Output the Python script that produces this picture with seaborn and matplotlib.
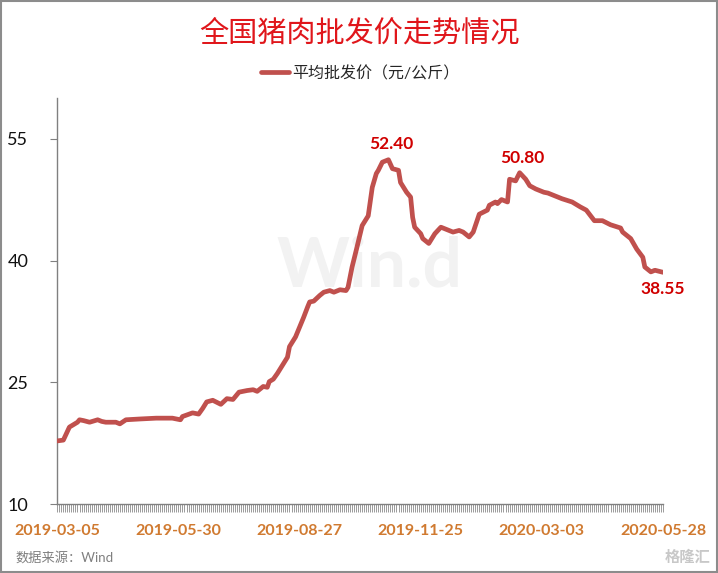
import numpy as np
import pandas as pd
import matplotlib
matplotlib.use("Agg")
import matplotlib.pyplot as plt
import seaborn as sns
from matplotlib.ticker import MultipleLocator
from matplotlib.patches import Rectangle

# ==============================
# data
# ==============================
# trading-day index (0 = 2019-03-05, 300 = 2020-05-28)
day = [0, 3, 6, 10, 11, 13, 16, 20, 22, 24, 29, 31, 34, 41, 49, 57, 61, 62,
       67, 70, 72, 74, 77, 81, 84, 87, 90, 94, 97, 99, 102, 104, 105, 107,
       109, 112, 114, 115, 118, 120, 122, 124, 125, 127, 130, 132, 135, 137,
       140, 143, 144, 146, 148, 151, 154, 156, 158, 159, 161, 164, 166, 169,
       170, 173, 175, 176, 177, 180, 181, 184, 187, 190, 194, 196, 199, 201,
       204, 206, 209, 213, 214, 217, 218, 220, 223, 224, 227, 229, 232, 234,
       237, 241, 243, 247, 250, 255, 259, 262, 266, 270, 274, 279, 280, 284,
       287, 290, 291, 294, 296, 300]
price = [17.8, 17.9, 19.5, 20.1, 20.4, 20.3, 20.1, 20.4, 20.2, 20.1, 20.1,
         19.9, 20.4, 20.5, 20.6, 20.6, 20.4, 20.8, 21.25, 21.1, 21.8, 22.6,
         22.8, 22.3, 23.0, 22.9, 23.8, 24.0, 24.1, 23.9, 24.5, 24.4, 25.1,
         25.4, 26.1, 27.3, 28.1, 29.4, 30.6, 31.8, 33.0, 34.3, 34.9, 35.0,
         35.7, 36.1, 36.3, 36.1, 36.4, 36.3, 36.7, 39.2, 41.2, 44.3, 45.5,
         49.0, 50.7, 51.1, 52.1, 52.4, 51.3, 51.1, 49.6, 48.4, 47.8, 45.3,
         44.1, 43.3, 42.7, 42.1, 43.3, 44.1, 43.7, 43.5, 43.7, 43.5, 42.9,
         43.5, 45.7, 46.2, 46.8, 47.2, 47.0, 47.5, 47.2, 50.0, 49.8, 50.8,
         50.0, 49.2, 48.8, 48.4, 48.3, 47.9, 47.6, 47.2, 46.6, 46.2, 44.9,
         44.9, 44.4, 44.0, 43.5, 42.7, 41.4, 40.4, 39.2, 38.6, 38.8, 38.55]

tick_days = [0, 60, 120, 180, 240, 300]
tick_labels = ["2019-03-05", "2019-05-30", "2019-08-27",
               "2019-11-25", "2020-03-03", "2020-05-28"]
y_ticks = [10, 25, 40, 55]

# labelled points
ann_days = [164, 229, 300]
ann_vals = [52.40, 50.80, 38.55]

series_name = "平均批发价（元/公斤）"
df = pd.DataFrame({"day": day, series_name: price})

# ==============================
# style
# ==============================
sns.set_style("white")
plt.rcParams["font.family"] = ["Lato", "Noto Sans CJK SC", "DejaVu Sans"]

fig = plt.figure(figsize=(7.18, 5.73), dpi=100)
ax = fig.add_axes([0.0798, 0.1199, 0.8436, 0.7091])

sns.lineplot(data=df, x="day", y=series_name, color="#C0504D", linewidth=3.4,
             ax=ax, label=series_name, zorder=3)

ax.set_xlim(0, 300)
ax.set_ylim(10, 60)
ax.set_xticks(tick_days)
ax.set_xticklabels(tick_labels)
ax.xaxis.set_minor_locator(MultipleLocator(1))
ax.set_yticks(y_ticks)
ax.set_xlabel("")
ax.set_ylabel("")

for s in ["top", "right"]:
    ax.spines[s].set_visible(False)
for s in ["left", "bottom"]:
    ax.spines[s].set_color("#808080")
    ax.spines[s].set_linewidth(1.0)

ax.tick_params(axis="x", which="both", bottom=True, direction="out", length=6,
               width=0.6, color="#8A8A8A", pad=8)
ax.tick_params(axis="x", which="major", labelsize=11.5, labelcolor="#D07A30")
for t in ax.get_xticklabels():
    t.set_fontweight("bold")
ax.tick_params(axis="y", left=True, direction="out", length=5, width=0.8,
               color="#808080", pad=16, labelsize=13, labelcolor="#111111")

# data labels
offsets = [(2, 5.5), (2, 5), (0, -12)]
vas = ["bottom", "bottom", "center"]
for d, v, (dx, dy), va in zip(ann_days, ann_vals, offsets, vas):
    ax.annotate(f"{v:.2f}", xy=(d, v), xytext=(dx, dy),
                textcoords="offset points", ha="center", va=va,
                fontsize=12.5, fontweight="bold", color="#D00000")

# watermark
ax.text(0.515, 0.585, "Win.d", transform=ax.transAxes, ha="center", va="center",
        fontsize=50, fontweight="bold", color="#F2F2F2", zorder=0)

# legend
ax.legend(loc="upper center", bbox_to_anchor=(0.5, 1.095), frameon=False,
          fontsize=11.5, handlelength=1.8, handletextpad=0.2,
          borderaxespad=0)

# title and notes
fig.text(0.5, 0.942, "全国猪肉批发价走势情况", ha="center", va="center",
         fontsize=21, color="#E0161B", family=["Noto Sans CJK SC", "DejaVu Sans"])
fig.text(0.021, 0.027, "数据来源：Wind", ha="left", va="center",
         fontsize=9.5, color="#7F7F7F")
fig.text(0.99, 0.027, "格隆汇", ha="right", va="center",
         fontsize=11, color="#C8C8C8", fontweight="bold")

fig.patches.append(Rectangle((0.001, 0.001), 0.998, 0.998, transform=fig.transFigure,
                             fill=False, edgecolor="#8C8C8C", linewidth=1.5))

plt.savefig("out.png", dpi=100)
